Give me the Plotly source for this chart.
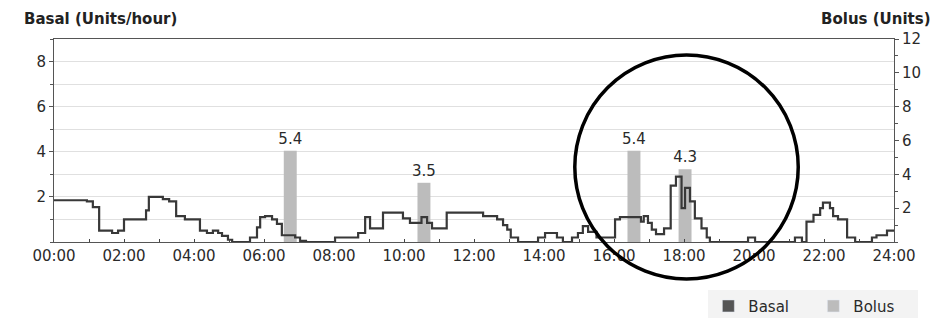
import plotly.graph_objects as go

# Basal rate steps (hour of day where each step starts, units/hour)
basal_hours = [0.0, 0.94, 1.11, 1.29, 1.66, 1.83, 2.0, 2.63, 2.71, 3.11, 3.29, 3.49, 3.74,
               4.17, 4.37, 4.54, 4.69, 4.8, 4.97, 5.09, 5.6, 5.8, 5.89, 6.03, 6.23, 6.37,
               6.51, 6.89, 7.03, 7.2, 8.03, 8.69, 8.89, 9.03, 9.4, 9.97, 10.17, 10.5, 10.66,
               10.8, 11.22, 12.26, 12.66, 12.83, 12.95, 13.05, 13.26, 13.83, 14.03, 14.37,
               14.54, 14.8, 14.97, 15.11, 15.26, 15.5, 16.03, 16.17, 16.77, 16.85, 16.97,
               17.08, 17.2, 17.43, 17.62, 17.77, 17.93, 18.03, 18.17, 18.31, 18.5, 18.65,
               18.74, 19.83, 20.03, 21.17, 21.37, 21.5, 21.7, 21.89, 21.97, 22.17, 22.26,
               22.4, 22.66, 22.89, 23.37, 23.5, 23.8, 24.0]
basal_rate = [1.85, 1.8, 1.55, 0.5, 0.4, 0.5, 1.0, 1.4, 2.0, 1.9, 1.8, 1.15, 1.0,
              0.5, 0.4, 0.5, 0.4, 0.27, 0.1, 0.0, 0.2, 0.65, 1.1, 1.15, 1.0, 0.8,
              0.3, 0.2, 0.05, 0.0, 0.2, 0.4, 1.1, 0.6, 1.3, 1.05, 0.85, 1.1, 0.85,
              0.6, 1.3, 1.15, 1.0, 0.75, 0.55, 0.2, 0.0, 0.2, 0.4, 0.2,
              0.0, 0.2, 0.4, 0.7, 0.45, 0.2, 1.0, 1.1, 0.9, 1.15, 0.85,
              0.55, 0.35, 0.6, 2.5, 2.9, 1.5, 2.4, 1.8, 1.05, 0.6, 0.2,
              0.0, 0.2, 0.0, 0.2, 0.0, 0.9, 1.2, 1.5, 1.75, 1.5, 1.15,
              1.0, 0.2, 0.0, 0.2, 0.3, 0.5, 0.5]

# Bolus doses
bolus_hours = [6.75, 10.57, 16.57, 18.03]
bolus_units = [5.4, 3.5, 5.4, 4.3]

# Axis ticks
x_tickvals = [0, 2, 4, 6, 8, 10, 12, 14, 16, 18, 20, 22, 24]
x_ticktext = ["00:00", "02:00", "04:00", "06:00", "08:00", "10:00", "12:00",
              "14:00", "16:00", "18:00", "20:00", "22:00", "24:00"]
basal_ticks = [2, 4, 6, 8]
bolus_ticks = [2, 4, 6, 8, 10, 12]

FONT = "DejaVu Sans"
TXT = "#2a2a2a"
BASAL_COLOR = "#383838"
BOLUS_COLOR = "#bcbcbc"

fig = go.Figure()

fig.add_trace(go.Bar(
    x=bolus_hours, y=bolus_units, width=0.37, name="Bolus",
    marker=dict(color=BOLUS_COLOR, line=dict(width=0)),
    text=[f"{v:.1f}" for v in bolus_units], textposition="outside",
    constraintext="none",
    textfont=dict(family=FONT, size=15, color=TXT),
    cliponaxis=False, yaxis="y", showlegend=False,
))

fig.add_trace(go.Scatter(
    x=basal_hours, y=basal_rate, mode="lines", line_shape="hv",
    line=dict(color=BASAL_COLOR, width=2.2), yaxis="y2", showlegend=False,
))

# legend swatches
fig.add_trace(go.Bar(x=[None], y=[None], name="Basal",
                     marker=dict(color="#555555"), yaxis="y", showlegend=True))
fig.add_trace(go.Bar(x=[None], y=[None], name="Bolus",
                     marker=dict(color=BOLUS_COLOR), yaxis="y", showlegend=True))

# page body has an 8px margin, so the figure is sized/offset to compensate
fig.update_layout(
    width=930, height=310,
    margin=dict(l=46, r=44, t=31, b=76, autoexpand=False),
    paper_bgcolor="white", plot_bgcolor="white",
    font=dict(family=FONT, size=15, color=TXT),
    barmode="overlay",
    xaxis=dict(range=[0, 24], tickvals=x_tickvals, ticktext=x_ticktext, automargin=False,
               showgrid=False, zeroline=False, showline=True, linecolor="#555555",
               linewidth=1, mirror=True, ticks="inside", ticklen=3, tickcolor="#444444",
               minor=dict(dtick=1, ticks="inside", ticklen=3, tickcolor="#444444"),
               tickfont=dict(size=15, color=TXT)),
    yaxis=dict(range=[0, 12], side="right", tickvals=bolus_ticks, automargin=False,
               showgrid=False, zeroline=False, showline=True, linecolor="#555555",
               ticks="outside", ticklen=4, tickcolor="#555555",
               minor=dict(dtick=1, ticks="outside", ticklen=3, tickcolor="#555555"),
               tickfont=dict(size=15, color=TXT)),
    yaxis2=dict(range=[0, 9], side="left", overlaying="y", tickvals=basal_ticks,
                automargin=False,
                showgrid=True, gridcolor="#e0e0e0", gridwidth=1,
                zeroline=False, showline=True, linecolor="#555555",
                ticks="outside", ticklen=4, tickcolor="#555555",
                minor=dict(dtick=1, showgrid=True, gridcolor="#e0e0e0",
                           ticks="outside", ticklen=3, tickcolor="#555555"),
                tickfont=dict(size=15, color=TXT)),
    legend=dict(orientation="h", x=0.779, xanchor="left", y=-0.235, yanchor="top",
                bgcolor="#f3f3f3", font=dict(size=15, color=TXT),
                entrywidth=60, entrywidthmode="pixels",
                traceorder="normal"),
    showlegend=True,
)

fig.add_annotation(text="<b>Basal (Units/hour)</b>", xref="paper", yref="paper",
                   x=-0.038, y=1.098, xanchor="left", yanchor="middle", showarrow=False,
                   font=dict(family=FONT, size=15, color="#222222"))
fig.add_annotation(text="<b>Bolus (Units)</b>", xref="paper", yref="paper",
                   x=1.046, y=1.098, xanchor="right", yanchor="middle", showarrow=False,
                   font=dict(family=FONT, size=15, color="#222222"))

# hand-drawn highlight circle
fig.add_shape(type="circle", xref="paper", yref="paper",
              x0=0.620, x1=0.886, y0=-0.182, y1=0.921,
              line=dict(color="black", width=3.5), layer="above")

fig.write_html("out.html")
